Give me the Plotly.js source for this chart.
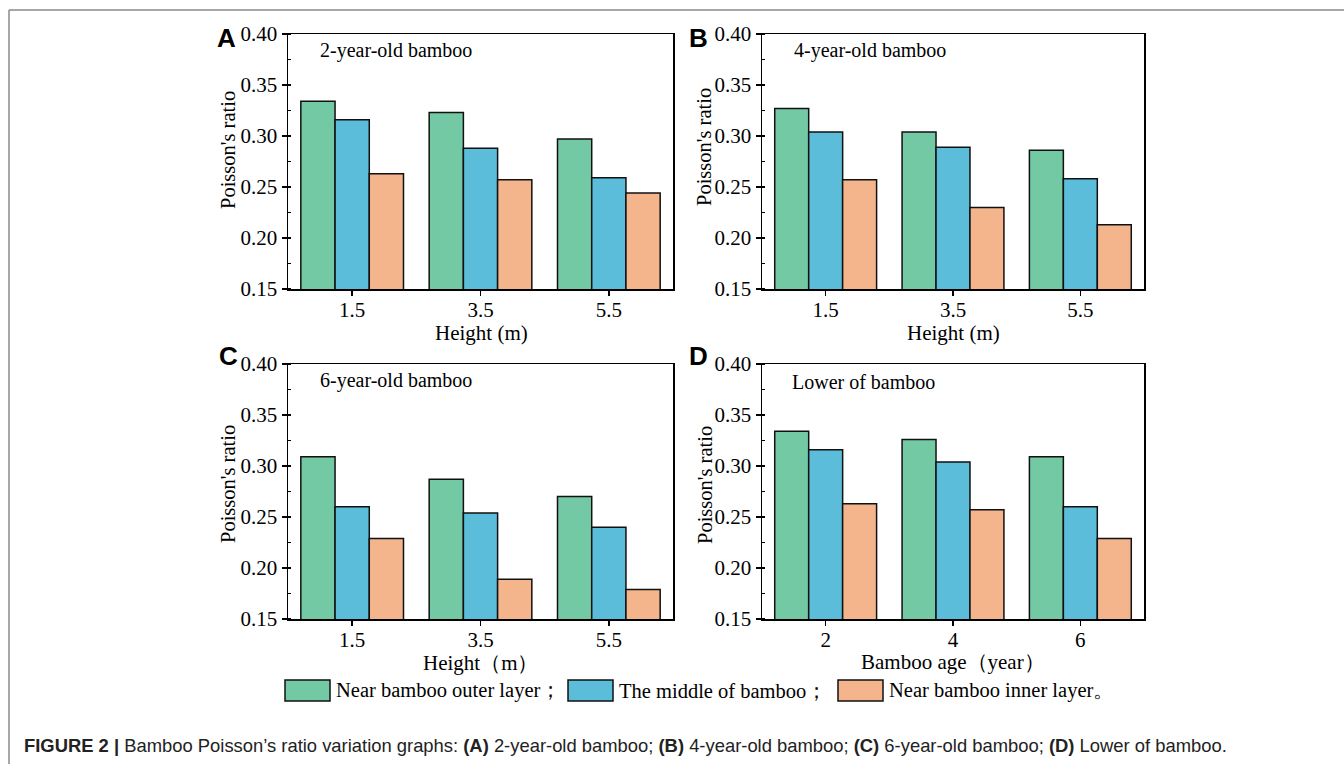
<!DOCTYPE html>
<html>
<head>
<meta charset="utf-8">
<script src="https://cdn.plot.ly/plotly-3.0.1.min.js"></script>
<style>
html,body{margin:0;padding:0;background:#fff;}
#chart{width:1344px;height:764px;}
</style>
</head>
<body>
<div id="chart"></div>
<script>
// ---- data ----
const heights = ['1.5', '3.5', '5.5'];
const ages = ['2', '4', '6'];
const seriesNames = ['Near bamboo outer layer；', 'The middle of bamboo；', 'Near bamboo inner layer。'];

const outerA = [0.334, 0.323, 0.297];
const middleA = [0.316, 0.288, 0.259];
const innerA = [0.263, 0.257, 0.244];

const outerB = [0.327, 0.304, 0.286];
const middleB = [0.304, 0.289, 0.258];
const innerB = [0.257, 0.230, 0.213];

const outerC = [0.309, 0.287, 0.270];
const middleC = [0.260, 0.254, 0.240];
const innerC = [0.229, 0.189, 0.179];

const outerD = [0.334, 0.326, 0.309];
const middleD = [0.316, 0.304, 0.260];
const innerD = [0.263, 0.257, 0.229];

const yTickVals = [0.15, 0.20, 0.25, 0.30, 0.35, 0.40];
const yTickText = ['0.15', '0.20', '0.25', '0.30', '0.35', '0.40'];

const panelTitles = ['2-year-old bamboo', '4-year-old bamboo', '6-year-old bamboo', 'Lower of bamboo'];
const xTitles = ['Height (m)', 'Height (m)', 'Height（m）', 'Bamboo age（year）'];
const yTitle = "Poisson's ratio";
const panelLetters = ['A', 'B', 'C', 'D'];
const caption = '<b>FIGURE 2 |</b> Bamboo Poisson\u2019s ratio variation graphs: <b>(A)</b> 2-year-old bamboo; <b>(B)</b> 4-year-old bamboo; <b>(C)</b> 6-year-old bamboo; <b>(D)</b> Lower of bamboo.';

// ---- styling ----
const colors = ['#74C9A5', '#5BBDD9', '#F5B58C'];
const W = 1344, H = 764;
const serif = 'Liberation Serif, Times New Roman, serif';
const sans = 'Liberation Sans, Arial, sans-serif';

const panels = [
  {cats: heights, vals: [outerA, middleA, innerA], x0: 288, x1: 673, y0: 34, y1: 289},
  {cats: heights, vals: [outerB, middleB, innerB], x0: 762, x1: 1144, y0: 34, y1: 289},
  {cats: heights, vals: [outerC, middleC, innerC], x0: 288, x1: 673, y0: 364, y1: 619},
  {cats: ages, vals: [outerD, middleD, innerD], x0: 762, x1: 1144, y0: 364, y1: 619}
];

const px = v => v / W;
const py = v => 1 - v / H;

const data = [];
const layout = {
  width: W, height: H,
  margin: {l: 0, r: 0, t: 0, b: 0},
  paper_bgcolor: '#fff', plot_bgcolor: '#fff',
  barmode: 'group', bargap: 0.2, bargroupgap: 0,
  showlegend: false,
  font: {family: serif, color: '#000', size: 20},
  annotations: [], shapes: []
};

const yTitlePos = [[228, 150], [704, 147], [228, 484], [705, 485]];
const xTitlePos = [[481, 333], [953, 333], [481, 663], [953, 662]];
const panelTitlePos = [[318, 50], [792, 50], [318, 381], [790, 382]];
const letterPos = [[226, 38], [698, 38], [228, 356], [698, 356]];

panels.forEach((p, i) => {
  const n = i + 1;
  const xa = 'x' + (n === 1 ? '' : n);
  const ya = 'y' + (n === 1 ? '' : n);
  p.vals.forEach((v, k) => {
    data.push({
      type: 'bar', x: p.cats, y: v, name: seriesNames[k],
      xaxis: xa, yaxis: ya,
      marker: {color: colors[k], line: {color: '#111', width: 1.5}},
      hoverinfo: 'x+y'
    });
  });
  layout['xaxis' + (n === 1 ? '' : n)] = {
    domain: [px(p.x0), px(p.x1)], anchor: ya, type: 'category',
    range: [-0.5, 2.5], showline: true, linecolor: '#000', linewidth: 1.5, mirror: true,
    ticks: 'outside', ticklen: 5, tickwidth: 1.5, tickcolor: '#000',
    ticklabelstandoff: -4,
    tickfont: {family: serif, size: 21, color: '#000'}, showgrid: false, zeroline: false,
    fixedrange: true
  };
  layout['yaxis' + (n === 1 ? '' : n)] = {
    domain: [py(p.y1), py(p.y0)], anchor: xa,
    range: [0.15, 0.40], tickvals: yTickVals, ticktext: yTickText,
    showline: true, linecolor: '#000', linewidth: 1.5, mirror: true,
    ticks: 'outside', ticklen: 5, tickwidth: 1.5, tickcolor: '#000',
    minor: {dtick: 0.025, tick0: 0.15, ticks: 'inside', ticklen: 3, tickwidth: 1.2, tickcolor: '#000', showgrid: false},
    tickfont: {family: serif, size: 21, color: '#000'}, showgrid: false, zeroline: false,
    fixedrange: true
  };
  layout.annotations.push({
    xref: 'paper', yref: 'paper', x: px(yTitlePos[i][0]), y: py(yTitlePos[i][1]),
    text: yTitle, textangle: -90, showarrow: false, xanchor: 'center', yanchor: 'middle',
    font: {family: serif, size: 20.5, color: '#000'}
  });
  layout.annotations.push({
    xref: 'paper', yref: 'paper', x: px(xTitlePos[i][0]), y: py(xTitlePos[i][1]),
    text: xTitles[i], showarrow: false, xanchor: 'center', yanchor: 'middle',
    font: {family: serif, size: 21, color: '#000'}
  });
  layout.annotations.push({
    xref: 'paper', yref: 'paper', x: px(panelTitlePos[i][0]), y: py(panelTitlePos[i][1]),
    text: panelTitles[i], showarrow: false, xanchor: 'left', yanchor: 'middle',
    font: {family: serif, size: 20, color: '#000'}
  });
  layout.annotations.push({
    xref: 'paper', yref: 'paper', x: px(letterPos[i][0]), y: py(letterPos[i][1]),
    text: '<b>' + panelLetters[i] + '</b>', showarrow: false, xanchor: 'center', yanchor: 'middle',
    font: {family: sans, size: 26, color: '#000'}
  });
});

// legend (drawn as boxes + text)
const legendBoxX = [285, 568, 838];
seriesNames.forEach((nm, k) => {
  const bx = legendBoxX[k];
  layout.shapes.push({
    type: 'rect', xref: 'paper', yref: 'paper',
    x0: px(bx), x1: px(bx + 45), y0: py(701), y1: py(680),
    fillcolor: colors[k], line: {color: '#111', width: 1.5}
  });
  layout.annotations.push({
    xref: 'paper', yref: 'paper', x: px(bx + 49), y: py(690.5),
    text: nm, showarrow: false, xanchor: 'left', yanchor: 'middle',
    font: {family: serif, size: 20.5, color: '#000'}
  });
});

// frame lines
layout.shapes.push({type: 'line', xref: 'paper', yref: 'paper', x0: px(9), x1: 1, y0: py(10), y1: py(10), line: {color: '#8a8a8a', width: 1.5}});
layout.shapes.push({type: 'line', xref: 'paper', yref: 'paper', x0: px(9), x1: px(9), y0: py(10), y1: 0, line: {color: '#8a8a8a', width: 1.5}});

// caption
layout.annotations.push({
  xref: 'paper', yref: 'paper', x: px(22), y: py(745),
  text: caption, showarrow: false, xanchor: 'left', yanchor: 'middle',
  font: {family: sans, size: 18.4, color: '#222'}
});

Plotly.newPlot('chart', data, layout, {displayModeBar: false, staticPlot: true});
</script>
</body>
</html>
